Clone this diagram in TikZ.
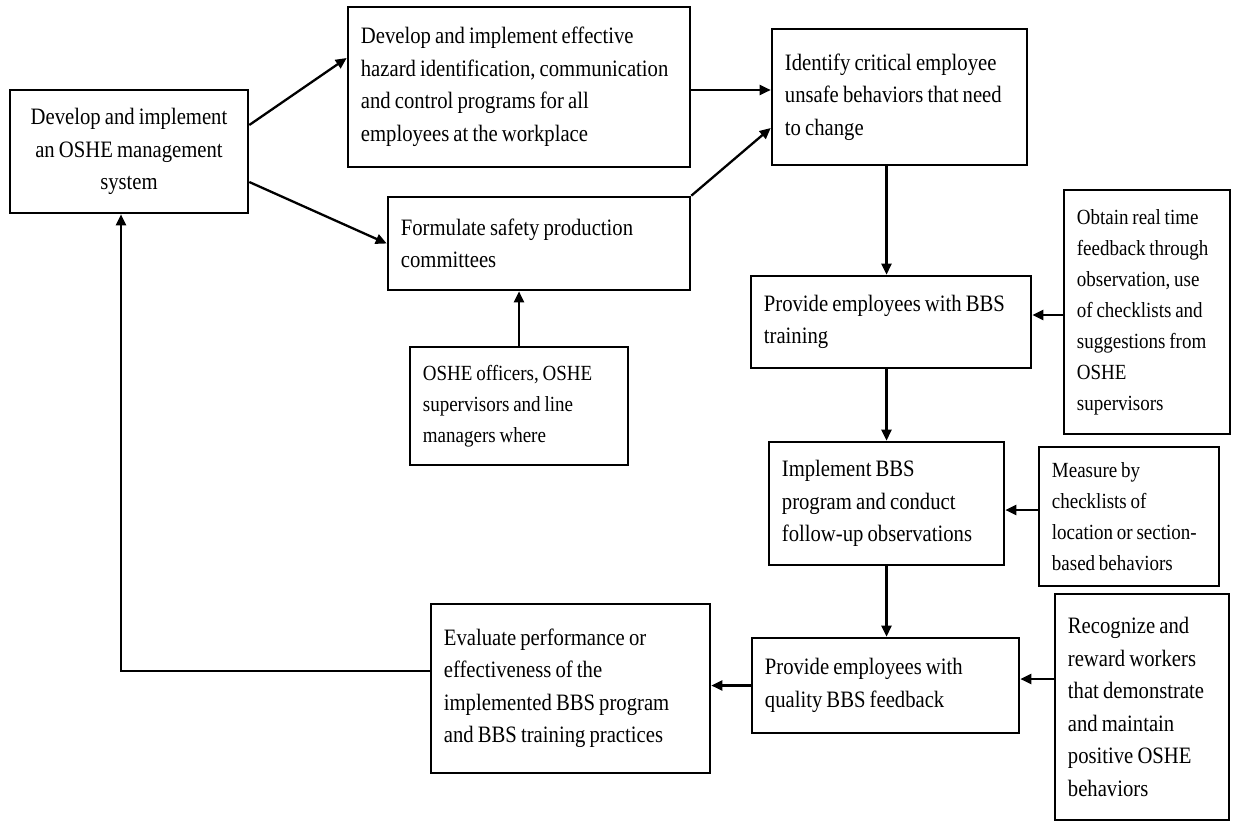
\documentclass[tikz,border=0pt]{standalone}
\usepackage{fontspec}
\setmainfont{Liberation Serif}[FakeStretch=0.88, WordSpace=0.8]
\usetikzlibrary{arrows.meta,calc}
\tikzset{
  box/.style={draw, line width=2.6pt, rectangle, inner sep=0pt},
  txt/.style={anchor=west, align=left, inner sep=0pt, xshift=14pt, font=\fontsize{23.5}{32.5}\selectfont},
  smalltxt/.style={txt, font=\fontsize{21.6}{31}\selectfont},
  arr/.style={line width=2.3pt, -{Triangle[length=11pt,width=10pt]}},
}
\newcommand{\bx}[6]{\node[box, minimum width=#3pt, minimum height=#4pt] (#1) at #2 {};
  \node[#5] (#1t) at (#1.west) {#6};}
\begin{document}
\begin{tikzpicture}[x=1pt,y=-1pt]
\useasboundingbox (0,0) rectangle (1233,822);
\fill[white] (0,0) rectangle (1233,822);
\node[box, minimum width=238pt, minimum height=123pt] (A) at (129,151.5) {};
\node[align=center, inner sep=0pt, font=\fontsize{23.5}{32.5}\selectfont] (At) at (A.center) {Develop and implement\\an OSHE management\\system};
\bx{B}{(519,87)}{342}{160}{txt}{Develop and implement effective\\hazard identification, communication\\and control programs for all\\employees at the workplace}
\bx{C}{(899.5,97)}{255}{136}{txt}{Identify critical employee\\unsafe behaviors that need\\to change}
\bx{D}{(539,243.5)}{302}{93}{txt}{Formulate safety production\\committees}
\bx{E}{(519,406)}{218}{118}{smalltxt}{OSHE officers, OSHE\\supervisors and line\\managers where}
\bx{F}{(891,322)}{280}{92}{txt}{Provide employees with BBS\\training}
\bx{G}{(1147,312)}{166}{244}{smalltxt}{Obtain real time\\feedback through\\observation, use\\of checklists and\\suggestions from\\OSHE\\supervisors}
\bx{H}{(886.5,503.5)}{235}{123}{txt}{Implement BBS\\program and conduct\\follow-up observations}
\bx{I}{(1129,516.5)}{180}{139}{smalltxt}{Measure by\\checklists of\\location or section-\\based behaviors}
\bx{J}{(885.5,685.5)}{267}{95}{txt}{Provide employees with\\quality BBS feedback}
\bx{K}{(1142,707)}{174}{226}{txt}{Recognize and\\reward workers\\that demonstrate\\and maintain\\positive OSHE\\behaviors}
\bx{L}{(570.5,688.5)}{279}{169}{txt}{Evaluate performance or\\effectiveness of the\\implemented BBS program\\and BBS training practices}

\draw[arr] ([yshift=26.5pt]A.east) -- ([yshift=29pt]B.west);
\draw[arr] ([yshift=-30.5pt]A.east) -- (D.west);
\draw[arr] ([yshift=-3pt]B.east) -- ([yshift=-3pt]B.east -| C.west);
\draw[arr] (D.north east) -- ([yshift=-31pt]C.west);
\draw[arr] (E.north) -- (E.north |- D.south);
\draw[arr] (H.north |- C.south) -- (H.north |- F.north);
\draw[arr] (H.north |- F.south) -- (H.north);
\draw[arr] (H.south) -- (H.south |- J.north);
\draw[arr] ([yshift=-3pt]G.west) -- ([yshift=-3pt]G.west -| F.east);
\draw[arr] ([yshift=-6.5pt]H.east -| I.west) -- ([yshift=-6.5pt]H.east);
\draw[arr] ([yshift=6.5pt]J.east -| K.west) -- ([yshift=6.5pt]J.east);
\draw[arr] (J.west) -- (J.west -| L.east);
\draw[arr] ([yshift=17.5pt]L.west) -| ([xshift=-8pt]A.south);
\end{tikzpicture}
\end{document}
